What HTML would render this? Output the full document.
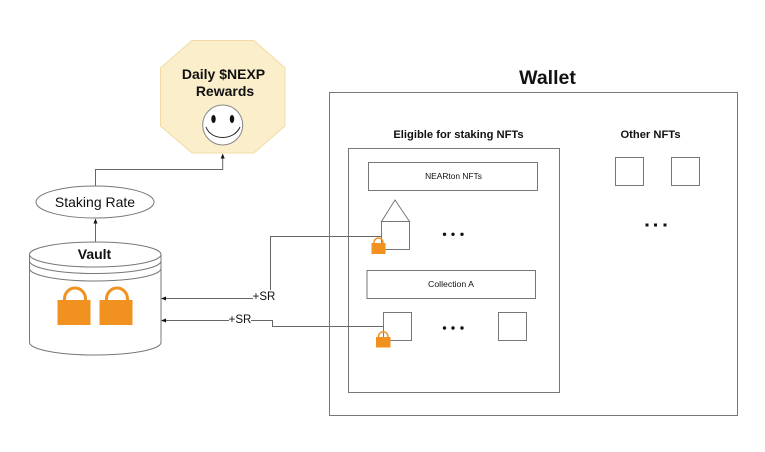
<!DOCTYPE html>
<html>
<head>
<meta charset="utf-8">
<style>
html,body{margin:0;padding:0;background:#fff;width:765px;height:452px;overflow:hidden}
svg{display:block;filter:blur(0.3px)}
text{font-family:"Liberation Sans",sans-serif;fill:#111}
</style>
</head>
<body>
<svg width="765" height="452" viewBox="0 0 765 452" xmlns="http://www.w3.org/2000/svg">

<!-- Octagon -->
<polygon points="192,40.500 254,40.500 285,68 285,126 254,153 192,153 160.500,126 160.500,68" fill="#fbeecb" stroke="#f0dca4" stroke-width="1"/>
<text x="223.500" y="79" font-size="14" font-weight="bold" text-anchor="middle">Daily $NEXP</text>
<text x="225" y="96" font-size="14" font-weight="bold" text-anchor="middle">Rewards</text>
<circle cx="222.700" cy="125" r="20" fill="#fff" stroke="#888" stroke-width="1"/>
<ellipse cx="213.500" cy="119" rx="2.200" ry="4" fill="#111"/>
<ellipse cx="232" cy="119" rx="2.200" ry="4" fill="#111"/>
<path d="M206 127 C211 141,234 141,240 127" fill="none" stroke="#222" stroke-width="1"/>

<!-- Staking connector -->
<path d="M95.500 186 V169.500 H222.700 V158" fill="none" stroke="#666" stroke-width="1"/>
<polygon points="222.700,153.500 220.700,158.500 224.700,158.500" fill="#111"/>
<ellipse cx="95" cy="202" rx="59" ry="16" fill="#fff" stroke="#777" stroke-width="1"/>
<text x="95" y="207" font-size="14" text-anchor="middle">Staking Rate</text>

<!-- Vault arrow -->
<path d="M95.500 242 V223" fill="none" stroke="#666" stroke-width="1"/>
<polygon points="95.500,218.500 93.500,223.500 97.500,223.500" fill="#111"/>

<!-- Cylinder -->
<path d="M29.500 254.500 A65.750 12.500 0 0 1 161 254.500 V342.500 A65.750 12.500 0 0 1 29.500 342.500 Z" fill="#fff" stroke="#777" stroke-width="1"/>
<path d="M29.500 254.500 A65.750 12.500 0 0 0 161 254.500" fill="none" stroke="#777" stroke-width="1"/>
<path d="M29.500 261 A65.750 12.500 0 0 0 161 261" fill="none" stroke="#777" stroke-width="1"/>
<path d="M29.500 268.500 A65.750 12.500 0 0 0 161 268.500" fill="none" stroke="#777" stroke-width="1"/>
<text x="94.500" y="259" font-size="14" font-weight="bold" text-anchor="middle">Vault</text>

<!-- Vault locks -->
<rect x="57.500" y="300" width="33" height="25" fill="#f19220"/>
<path d="M64.500 301 V299 A10 10.500 0 0 1 85.500 299 V301" fill="none" stroke="#f19220" stroke-width="3"/>
<rect x="99.500" y="300" width="33" height="25" fill="#f19220"/>
<path d="M106.500 301 V299 A10 10.500 0 0 1 127.500 299 V301" fill="none" stroke="#f19220" stroke-width="3"/>

<!-- Connectors to vault -->
<path d="M381 236.500 H270.500 V290 M253 298.500 H165" fill="none" stroke="#666" stroke-width="1"/>
<polygon points="161,298.500 166,296.500 166,300.500" fill="#111"/>
<text x="264" y="300" font-size="11.500" text-anchor="middle">+SR</text>
<path d="M383 326.500 H272.500 V320.500 H251 M229 320.500 H165" fill="none" stroke="#666" stroke-width="1"/>
<polygon points="161,320.500 166,318.500 166,322.500" fill="#111"/>
<text x="240" y="323" font-size="11.500" text-anchor="middle">+SR</text>

<!-- Wallet -->
<text x="547.500" y="84" font-size="19.500" font-weight="bold" text-anchor="middle">Wallet</text>
<rect x="329.500" y="92.500" width="408" height="323" fill="none" stroke="#777" stroke-width="1"/>
<text x="458.500" y="138" font-size="11.200" font-weight="bold" text-anchor="middle">Eligible for staking NFTs</text>
<text x="650.500" y="138" font-size="11.200" font-weight="bold" text-anchor="middle">Other NFTs</text>
<rect x="348.500" y="148.500" width="211" height="244" fill="none" stroke="#777" stroke-width="1"/>

<rect x="368.500" y="162.500" width="169" height="28" fill="none" stroke="#777" stroke-width="1"/>
<text x="453.500" y="179" font-size="8.400" text-anchor="middle">NEARton NFTs</text>

<!-- House NFT -->
<rect x="381.500" y="221.500" width="28" height="28" fill="#fff" stroke="#777" stroke-width="1"/>
<polygon points="395,200 381.500,221.500 409.500,221.500" fill="#fff" stroke="#777" stroke-width="1"/>
<path d="M340 236.500 H381.500" fill="none" stroke="#666" stroke-width="1"/>
<rect x="371.500" y="243" width="14" height="11" fill="#f19220"/>
<path d="M374 244 V242.500 A4.500 4.500 0 0 1 383 242.500 V244" fill="none" stroke="#f19220" stroke-width="1.500"/>
<g fill="#111">
<circle cx="444.500" cy="234.300" r="1.700"/><circle cx="453" cy="234.300" r="1.700"/><circle cx="462" cy="234.300" r="1.700"/>
</g>

<rect x="367" y="270.500" width="168.500" height="28" fill="none" stroke="#777" stroke-width="1"/>
<text x="451" y="287" font-size="8.700" text-anchor="middle">Collection A</text>

<rect x="383.500" y="312.500" width="28" height="28" fill="#fff" stroke="#777" stroke-width="1"/>
<path d="M340 326.500 H383.500" fill="none" stroke="#666" stroke-width="1"/>
<rect x="376" y="337" width="14.500" height="10.500" fill="#f19220"/>
<path d="M378.500 338 V336.500 A4.700 4.700 0 0 1 388 336.500 V338" fill="none" stroke="#f19220" stroke-width="1.500"/>
<g fill="#111">
<circle cx="444.500" cy="328" r="1.700"/><circle cx="453" cy="328" r="1.700"/><circle cx="462" cy="328" r="1.700"/>
</g>
<rect x="498.500" y="312.500" width="28" height="28" fill="none" stroke="#777" stroke-width="1"/>

<!-- Other NFTs -->
<rect x="615.500" y="157.500" width="28" height="28" fill="none" stroke="#777" stroke-width="1"/>
<rect x="671.500" y="157.500" width="28" height="28" fill="none" stroke="#777" stroke-width="1"/>
<g fill="#111">
<rect x="645.500" y="223.500" width="3" height="3"/><rect x="654" y="223.500" width="3" height="3"/><rect x="663.500" y="223.500" width="3" height="3"/>
</g>
</svg>
</body>
</html>
